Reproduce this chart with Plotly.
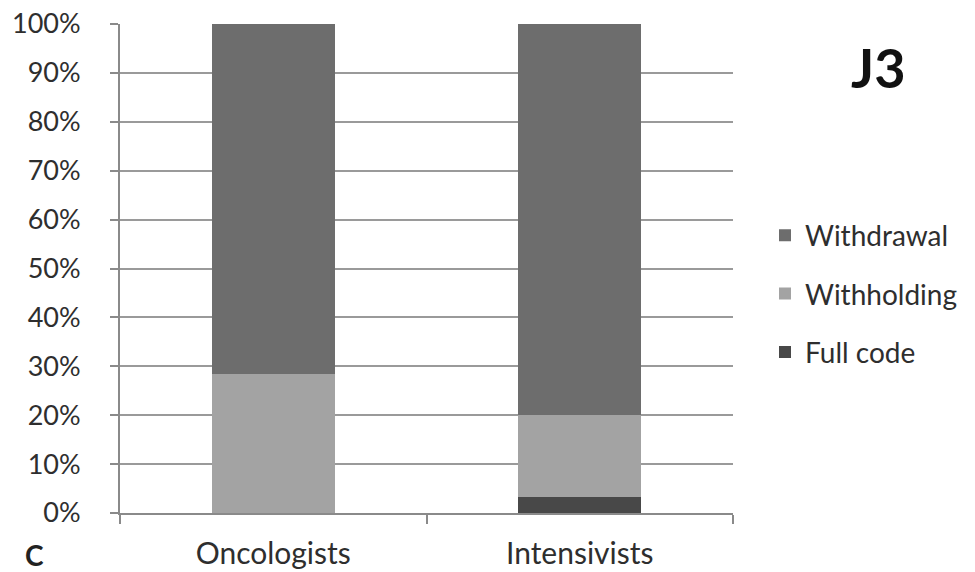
import plotly.graph_objects as go

categories = ["Oncologists", "Intensivists"]
full_code = [0.0, 3.3]
withholding = [28.4, 16.7]
withdrawal = [71.6, 80.0]
y_ticks = list(range(0, 101, 10))
y_tick_labels = [f"{v}%" for v in y_ticks]

FONT = "Lato"
TEXT = "#2e2e2e"

# plot-area geometry in pixels
W, H = 975, 572
ML, MR, MT, MB = 120, 242, 24, 59
PW, PH = W - ML - MR, H - MT - MB


def px_to_paper(x, y):
    return (x - ML) / PW, (H - MB - y) / PH


fig = go.Figure()
# stacked bottom-to-top; legend lists them top-to-bottom via legendrank
series = [
    ("Full code", full_code, "#484848", 3),
    ("Withholding", withholding, "#a3a3a3", 2),
    ("Withdrawal", withdrawal, "#6d6d6d", 1),
]
for name, vals, col, rank in series:
    fig.add_trace(go.Bar(
        x=categories, y=vals, name=name, legendgroup=name, legendrank=rank,
        marker=dict(color=col, line=dict(width=0)),
        width=0.4,
    ))

leg_x, leg_y = px_to_paper(765, 294)
j3_x, j3_y = px_to_paper(878, 68)
c_x, c_y = px_to_paper(34, 555)

fig.update_layout(
    barmode="stack",
    width=W, height=H,
    margin=dict(l=ML, r=MR, t=MT, b=MB),
    paper_bgcolor="white", plot_bgcolor="white",
    font=dict(family=FONT, color=TEXT, size=28),
    showlegend=True,
    legend=dict(
        x=leg_x, y=leg_y, xanchor="left", yanchor="middle",
        traceorder="grouped", tracegroupgap=19,
        font=dict(size=28, color=TEXT),
        itemwidth=30,
    ),
    xaxis=dict(
        automargin=False,
        showline=True, linecolor="#8a8a8a", linewidth=2,
        ticks="outside", tickson="boundaries", ticklen=9,
        tickcolor="#8a8a8a", tickwidth=2,
        tickfont=dict(size=30, color=TEXT),
        ticklabelstandoff=13,
        showgrid=False,
    ),
    yaxis=dict(
        automargin=False,
        range=[0, 100], tickvals=y_ticks, ticktext=y_tick_labels,
        showline=True, linecolor="#8a8a8a", linewidth=2,
        ticks="outside", ticklen=8, tickcolor="#8a8a8a", tickwidth=2,
        showgrid=True, gridcolor="#9a9a9a", gridwidth=1.5,
        tickfont=dict(size=27, color=TEXT),
        ticklabelstandoff=24,
        zeroline=False,
    ),
    annotations=[
        dict(text="<b>J3</b>", x=j3_x, y=j3_y, xref="paper", yref="paper",
             xanchor="center", yanchor="middle", showarrow=False,
             font=dict(size=54, color="#111111", family=FONT)),
        dict(text="<b>C</b>", x=c_x, y=c_y, xref="paper", yref="paper",
             xanchor="center", yanchor="middle", showarrow=False,
             font=dict(size=28, color="#222222", family=FONT)),
    ],
)

fig.write_html("out.html")
